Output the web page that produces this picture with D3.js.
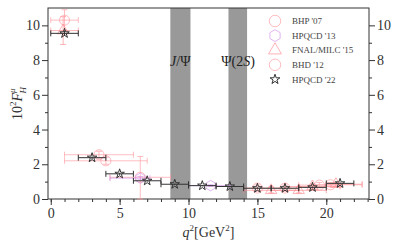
<!DOCTYPE html>
<meta charset="utf-8">
<style>
body { margin: 0; background: #fff; }
svg { font-family: "Liberation Serif", "DejaVu Serif", serif; }
.axis path, .axis line { stroke: #333; }
.axis text { font-size: 14px; fill: #333; font-family: "Liberation Serif", serif; }
.legend text { font-size: 9px; fill: #444; }
</style>
<svg width="399" height="247"></svg>
<script src="https://cdn.jsdelivr.net/npm/d3@7"></script>
<script>

// HPQCD '22 (stars)
var hpqcd22 = [
    {q2: 1,  f: 9.54, lo: 0,  hi: 2,  fe: 0.15},
    {q2: 3,  f: 2.38, lo: 2,  hi: 4,  fe: 0.08},
    {q2: 5,  f: 1.45, lo: 4,  hi: 6,  fe: 0.06},
    {q2: 7,  f: 1.05, lo: 6,  hi: 8,  fe: 0.05},
    {q2: 9,  f: 0.85, lo: 8,  hi: 10, fe: 0.04},
    {q2: 11, f: 0.77, lo: 10, hi: 12, fe: 0.04},
    {q2: 13, f: 0.72, lo: 12, hi: 14, fe: 0.04},
    {q2: 15, f: 0.62, lo: 14, hi: 16, fe: 0.04},
    {q2: 17, f: 0.62, lo: 16, hi: 18, fe: 0.04},
    {q2: 19, f: 0.67, lo: 18, hi: 20, fe: 0.04},
    {q2: 21, f: 0.9,  lo: 20, hi: 22, fe: 0.05}
];

// BHP '07 (circles)
var bhp07 = [
    {q2: 1,   f: 10.3, lo: 0,   hi: 2,   flo: 9.7,  fhi: 10.9},
    {q2: 3.5, f: 2.55, lo: 1,   hi: 6,   flo: 2.35, fhi: 2.75},
    {q2: 6.5, f: 1.25, lo: 4.3, hi: 8.7, flo: 0,    fhi: 2.45}
];

// BHD '12 (circles)
var bhd12 = [
    {q2: 4,    f: 2.2,  lo: 1,  hi: 7,    flo: 2.0,  fhi: 2.4},
    {q2: 15,   f: 0.63, lo: 14, hi: 16,   flo: 0.45, fhi: 0.8},
    {q2: 17,   f: 0.63, lo: 16, hi: 18,   flo: 0.45, fhi: 0.8},
    {q2: 19.5, f: 0.8,  lo: 18, hi: 21,   flo: 0.65, fhi: 0.95},
    {q2: 20.3, f: 0.82, lo: 19, hi: 22.6, flo: 0.7,  fhi: 0.95}
];

// FNAL/MILC '15 (triangles)
var fnal15 = [
    {q2: 0.9,  f: 9.7,  lo: 0,  hi: 2,    flo: 8.9,  fhi: 10.5},
    {q2: 16,   f: 0.5,  lo: 14, hi: 18,   flo: 0.35, fhi: 0.7},
    {q2: 18,   f: 0.5,  lo: 16, hi: 20,   flo: 0.35, fhi: 0.7},
    {q2: 19,   f: 0.72, lo: 17, hi: 21,   flo: 0.6,  fhi: 0.85},
    {q2: 20.7, f: 0.85, lo: 20, hi: 22.6, flo: 0.72, fhi: 0.95}
];

// HPQCD '13 (hexagons)
var hpqcd13 = [
    {q2: 6.5,  f: 1.2,  lo: 4.3, hi: 7.2, flo: 1.1,  fhi: 1.3},
    {q2: 11.6, f: 0.77, lo: 10,  hi: 13,  flo: 0.72, fhi: 0.82}
];

// charmonium bands
var bands = [
    {name: "jpsi", lo: 8.68, hi: 10.14},
    {name: "psi2s", lo: 12.9, hi: 14.25}
];

var xTicks = [0, 5, 10, 15, 20];
var yTicks = [0, 2, 4, 6, 8, 10];

var svg = d3.select("svg"),
    margin = {top: 8, right: 30, bottom: 48, left: 48},
    width = 399 - margin.left - margin.right,
    height = 247 - margin.top - margin.bottom;

var g = svg.append("g").attr("transform", "translate(" + margin.left + "," + margin.top + ")");

var x = d3.scaleLinear().domain([-0.2, 23.1]).range([0, width]);
var y = d3.scaleLinear().domain([0, 11]).range([height, 0]);

// bands
g.selectAll(".band").data(bands).enter().append("rect")
    .attr("x", function(d) { return x(d.lo); })
    .attr("width", function(d) { return x(d.hi) - x(d.lo); })
    .attr("y", 0)
    .attr("height", height)
    .attr("fill", "#999");

// axes
function minor(ax) { return ax.tickSize(3).tickFormat(""); }

g.append("g").attr("class", "axis")
    .attr("transform", "translate(0," + height + ")")
    .call(minor(d3.axisBottom(x).tickValues(d3.range(0, 24, 1))));
g.append("g").attr("class", "axis")
    .attr("transform", "translate(0," + height + ")")
    .call(d3.axisBottom(x).tickValues(xTicks).tickSize(6).tickSizeOuter(0).tickPadding(3));

g.append("g").attr("class", "axis")
    .call(minor(d3.axisLeft(y).tickValues(d3.range(1, 11, 2))));
g.append("g").attr("class", "axis")
    .call(d3.axisLeft(y).tickValues(yTicks).tickSize(6).tickSizeOuter(0).tickPadding(2));

g.append("g").attr("class", "axis")
    .attr("transform", "translate(" + width + ",0)")
    .call(minor(d3.axisRight(y).tickValues(d3.range(1, 11, 2))));
g.append("g").attr("class", "axis")
    .attr("transform", "translate(" + width + ",0)")
    .call(d3.axisRight(y).tickValues(yTicks).tickSize(6).tickSizeOuter(0).tickPadding(2));

g.selectAll(".axis .domain").remove();
g.append("rect")
    .attr("width", width).attr("height", height)
    .attr("fill", "none").attr("stroke", "#333").attr("stroke-width", 1);

// custom hexagon symbol
var symbolHexagon = {
    draw: function(context, size) {
        var r = Math.sqrt(size / (1.5 * Math.sqrt(3)));
        for (var i = 0; i < 6; i++) {
            var a = Math.PI / 3 * i - Math.PI / 2;
            if (i === 0) context.moveTo(r * Math.cos(a), r * Math.sin(a));
            else context.lineTo(r * Math.cos(a), r * Math.sin(a));
        }
        context.closePath();
    }
};

var series = [
    {name: "BHP '07", data: bhp07, type: d3.symbolCircle, size: 80, color: "#ff9aa0", op: 0.65},
    {name: "HPQCD '13", data: hpqcd13, type: symbolHexagon, size: 70, color: "#cf8fe8", op: 0.65},
    {name: "FNAL/MILC '15", data: fnal15, type: d3.symbolTriangle, size: 55, color: "#ff8a90", op: 0.65},
    {name: "BHD '12", data: bhd12, type: d3.symbolCircle, size: 80, color: "#ff9aa0", op: 0.65}
];

var cap = 3;

series.forEach(function(s) {
    var sg = g.append("g").attr("stroke", s.color).attr("stroke-opacity", s.op).attr("fill", "none");
    var pts = sg.selectAll("g").data(s.data).enter().append("g");
    pts.append("path").attr("d", function(d) {
        return "M" + x(d.lo) + "," + y(d.f) + "H" + x(d.hi) +
            "M" + x(d.lo) + "," + (y(d.f) - cap) + "V" + (y(d.f) + cap) +
            "M" + x(d.hi) + "," + (y(d.f) - cap) + "V" + (y(d.f) + cap) +
            "M" + x(d.q2) + "," + y(d.flo) + "V" + y(d.fhi) +
            "M" + (x(d.q2) - cap) + "," + y(d.flo) + "H" + (x(d.q2) + cap) +
            "M" + (x(d.q2) - cap) + "," + y(d.fhi) + "H" + (x(d.q2) + cap);
    });
    pts.append("path")
        .attr("transform", function(d) { return "translate(" + x(d.q2) + "," + y(d.f) + ")"; })
        .attr("d", d3.symbol().type(s.type).size(s.size));
});

// HPQCD '22
var sg = g.append("g").attr("stroke", "#333").attr("fill", "none");
var pts = sg.selectAll("g").data(hpqcd22).enter().append("g");
pts.append("path").attr("d", function(d) {
    return "M" + x(d.lo) + "," + y(d.f) + "H" + x(d.hi) +
        "M" + x(d.lo) + "," + (y(d.f) - cap) + "V" + (y(d.f) + cap) +
        "M" + x(d.hi) + "," + (y(d.f) - cap) + "V" + (y(d.f) + cap) +
        "M" + x(d.q2) + "," + y(d.f - d.fe) + "V" + y(d.f + d.fe);
});
pts.append("path")
    .attr("transform", function(d) { return "translate(" + x(d.q2) + "," + y(d.f) + ")"; })
    .attr("d", d3.symbol().type(d3.symbolStar).size(28));

// band labels
g.append("text")
    .attr("x", x(9.4)).attr("y", 58).attr("text-anchor", "middle")
    .attr("font-size", 14).attr("fill", "#222")
    .html('<tspan font-style="italic">J</tspan>/Ψ');
g.append("text")
    .attr("x", x(13.6)).attr("y", 58).attr("text-anchor", "middle")
    .attr("font-size", 14).attr("fill", "#222")
    .html('Ψ(2<tspan font-style="italic">S</tspan>)');

// legend
var legendItems = series.concat([{name: "HPQCD '22", type: d3.symbolStar, size: 30, color: "#333", op: 1}]);
var lg = svg.append("g").attr("class", "legend").attr("transform", "translate(275,21)");
var li = lg.selectAll("g").data(legendItems).enter().append("g")
    .attr("transform", function(d, i) { return "translate(0," + (i * 14.6) + ")"; });
li.append("path")
    .attr("d", function(d) { return d3.symbol().type(d.type).size(d.name === "HPQCD '22" ? d.size : d.size * 1.3)(); })
    .attr("fill", "none")
    .attr("stroke", function(d) { return d.color; })
    .attr("stroke-opacity", function(d) { return d.op; });
li.append("text")
    .attr("x", 17).attr("dy", "0.35em")
    .text(function(d) { return d.name; });

// axis labels
svg.append("text")
    .attr("x", margin.left + width / 2).attr("y", 237)
    .attr("text-anchor", "middle").attr("font-size", 14).attr("fill", "#333")
    .html('<tspan font-style="italic">q</tspan><tspan dy="-6" font-size="9">2</tspan><tspan dy="6">[GeV</tspan><tspan dy="-6" font-size="9">2</tspan><tspan dy="6">]</tspan>');

svg.append("text")
    .attr("transform", "translate(22," + (margin.top + height / 2) + ") rotate(-90)")
    .attr("text-anchor", "middle").attr("font-size", 14).attr("fill", "#333")
    .html('10<tspan dy="-6" font-size="9">2</tspan><tspan dy="6" font-style="italic">F</tspan><tspan dy="-7" font-size="9" font-style="italic">μ</tspan><tspan dx="-5" dy="11" font-size="9" font-style="italic">H</tspan>');

</script>
